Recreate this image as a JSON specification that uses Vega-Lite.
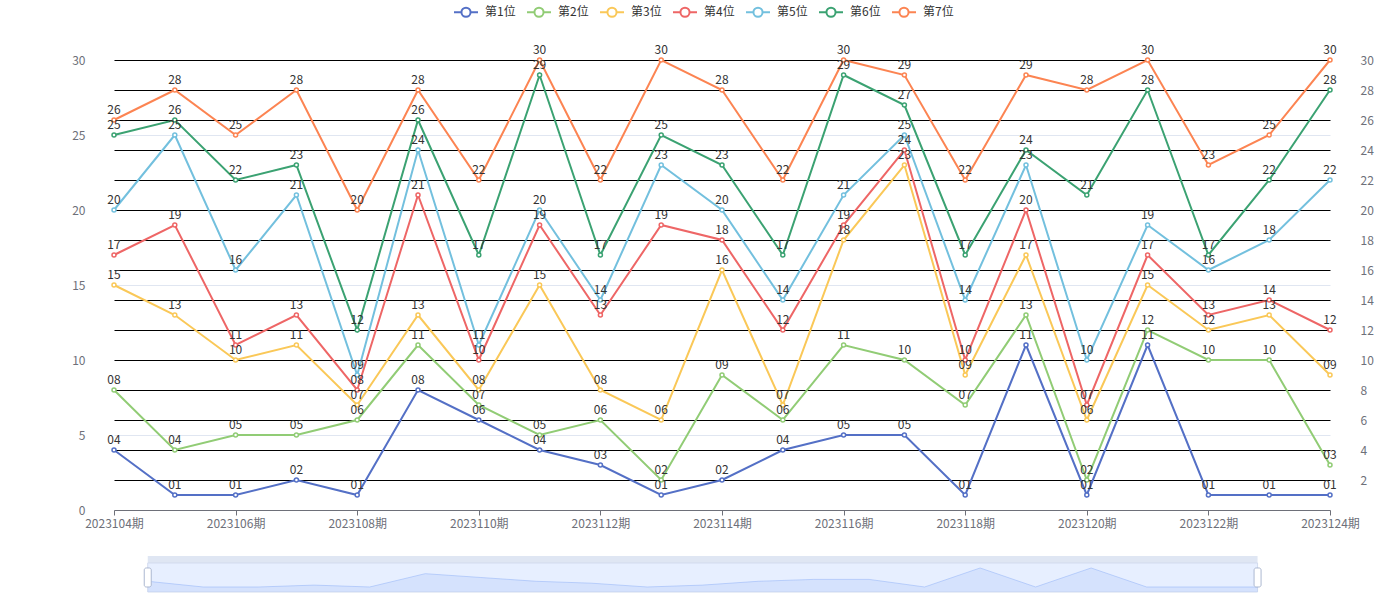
{
  "$schema": "https://vega.github.io/schema/vega-lite/v6.json",
  "autosize": {"type": "none"},
  "padding": {"left": 114, "top": 60, "right": 1286, "bottom": 540},
  "background": "white",
  "config": {
    "view": {"stroke": null},
    "font": "Noto Sans CJK SC",
    "axis": {"labelFont": "Noto Sans CJK SC", "labelFontSize": 12, "labelColor": "#6e7079"},
    "legend": {"labelFont": "Noto Sans CJK SC"}
  },
  "data": {
    "values": [
      {"period": "2023104期", "idx": 0, "series": "第1位", "value": 4},
      {"period": "2023105期", "idx": 1, "series": "第1位", "value": 1},
      {"period": "2023106期", "idx": 2, "series": "第1位", "value": 1},
      {"period": "2023107期", "idx": 3, "series": "第1位", "value": 2},
      {"period": "2023108期", "idx": 4, "series": "第1位", "value": 1},
      {"period": "2023109期", "idx": 5, "series": "第1位", "value": 8},
      {"period": "2023110期", "idx": 6, "series": "第1位", "value": 6},
      {"period": "2023111期", "idx": 7, "series": "第1位", "value": 4},
      {"period": "2023112期", "idx": 8, "series": "第1位", "value": 3},
      {"period": "2023113期", "idx": 9, "series": "第1位", "value": 1},
      {"period": "2023114期", "idx": 10, "series": "第1位", "value": 2},
      {"period": "2023115期", "idx": 11, "series": "第1位", "value": 4},
      {"period": "2023116期", "idx": 12, "series": "第1位", "value": 5},
      {"period": "2023117期", "idx": 13, "series": "第1位", "value": 5},
      {"period": "2023118期", "idx": 14, "series": "第1位", "value": 1},
      {"period": "2023119期", "idx": 15, "series": "第1位", "value": 11},
      {"period": "2023120期", "idx": 16, "series": "第1位", "value": 1},
      {"period": "2023121期", "idx": 17, "series": "第1位", "value": 11},
      {"period": "2023122期", "idx": 18, "series": "第1位", "value": 1},
      {"period": "2023123期", "idx": 19, "series": "第1位", "value": 1},
      {"period": "2023124期", "idx": 20, "series": "第1位", "value": 1},

      {"period": "2023104期", "idx": 0, "series": "第2位", "value": 8},
      {"period": "2023105期", "idx": 1, "series": "第2位", "value": 4},
      {"period": "2023106期", "idx": 2, "series": "第2位", "value": 5},
      {"period": "2023107期", "idx": 3, "series": "第2位", "value": 5},
      {"period": "2023108期", "idx": 4, "series": "第2位", "value": 6},
      {"period": "2023109期", "idx": 5, "series": "第2位", "value": 11},
      {"period": "2023110期", "idx": 6, "series": "第2位", "value": 7},
      {"period": "2023111期", "idx": 7, "series": "第2位", "value": 5},
      {"period": "2023112期", "idx": 8, "series": "第2位", "value": 6},
      {"period": "2023113期", "idx": 9, "series": "第2位", "value": 2},
      {"period": "2023114期", "idx": 10, "series": "第2位", "value": 9},
      {"period": "2023115期", "idx": 11, "series": "第2位", "value": 6},
      {"period": "2023116期", "idx": 12, "series": "第2位", "value": 11},
      {"period": "2023117期", "idx": 13, "series": "第2位", "value": 10},
      {"period": "2023118期", "idx": 14, "series": "第2位", "value": 7},
      {"period": "2023119期", "idx": 15, "series": "第2位", "value": 13},
      {"period": "2023120期", "idx": 16, "series": "第2位", "value": 2},
      {"period": "2023121期", "idx": 17, "series": "第2位", "value": 12},
      {"period": "2023122期", "idx": 18, "series": "第2位", "value": 10},
      {"period": "2023123期", "idx": 19, "series": "第2位", "value": 10},
      {"period": "2023124期", "idx": 20, "series": "第2位", "value": 3},

      {"period": "2023104期", "idx": 0, "series": "第3位", "value": 15},
      {"period": "2023105期", "idx": 1, "series": "第3位", "value": 13},
      {"period": "2023106期", "idx": 2, "series": "第3位", "value": 10},
      {"period": "2023107期", "idx": 3, "series": "第3位", "value": 11},
      {"period": "2023108期", "idx": 4, "series": "第3位", "value": 7},
      {"period": "2023109期", "idx": 5, "series": "第3位", "value": 13},
      {"period": "2023110期", "idx": 6, "series": "第3位", "value": 8},
      {"period": "2023111期", "idx": 7, "series": "第3位", "value": 15},
      {"period": "2023112期", "idx": 8, "series": "第3位", "value": 8},
      {"period": "2023113期", "idx": 9, "series": "第3位", "value": 6},
      {"period": "2023114期", "idx": 10, "series": "第3位", "value": 16},
      {"period": "2023115期", "idx": 11, "series": "第3位", "value": 7},
      {"period": "2023116期", "idx": 12, "series": "第3位", "value": 18},
      {"period": "2023117期", "idx": 13, "series": "第3位", "value": 23},
      {"period": "2023118期", "idx": 14, "series": "第3位", "value": 9},
      {"period": "2023119期", "idx": 15, "series": "第3位", "value": 17},
      {"period": "2023120期", "idx": 16, "series": "第3位", "value": 6},
      {"period": "2023121期", "idx": 17, "series": "第3位", "value": 15},
      {"period": "2023122期", "idx": 18, "series": "第3位", "value": 12},
      {"period": "2023123期", "idx": 19, "series": "第3位", "value": 13},
      {"period": "2023124期", "idx": 20, "series": "第3位", "value": 9},

      {"period": "2023104期", "idx": 0, "series": "第4位", "value": 17},
      {"period": "2023105期", "idx": 1, "series": "第4位", "value": 19},
      {"period": "2023106期", "idx": 2, "series": "第4位", "value": 11},
      {"period": "2023107期", "idx": 3, "series": "第4位", "value": 13},
      {"period": "2023108期", "idx": 4, "series": "第4位", "value": 8},
      {"period": "2023109期", "idx": 5, "series": "第4位", "value": 21},
      {"period": "2023110期", "idx": 6, "series": "第4位", "value": 10},
      {"period": "2023111期", "idx": 7, "series": "第4位", "value": 19},
      {"period": "2023112期", "idx": 8, "series": "第4位", "value": 13},
      {"period": "2023113期", "idx": 9, "series": "第4位", "value": 19},
      {"period": "2023114期", "idx": 10, "series": "第4位", "value": 18},
      {"period": "2023115期", "idx": 11, "series": "第4位", "value": 12},
      {"period": "2023116期", "idx": 12, "series": "第4位", "value": 19},
      {"period": "2023117期", "idx": 13, "series": "第4位", "value": 24},
      {"period": "2023118期", "idx": 14, "series": "第4位", "value": 10},
      {"period": "2023119期", "idx": 15, "series": "第4位", "value": 20},
      {"period": "2023120期", "idx": 16, "series": "第4位", "value": 7},
      {"period": "2023121期", "idx": 17, "series": "第4位", "value": 17},
      {"period": "2023122期", "idx": 18, "series": "第4位", "value": 13},
      {"period": "2023123期", "idx": 19, "series": "第4位", "value": 14},
      {"period": "2023124期", "idx": 20, "series": "第4位", "value": 12},

      {"period": "2023104期", "idx": 0, "series": "第5位", "value": 20},
      {"period": "2023105期", "idx": 1, "series": "第5位", "value": 25},
      {"period": "2023106期", "idx": 2, "series": "第5位", "value": 16},
      {"period": "2023107期", "idx": 3, "series": "第5位", "value": 21},
      {"period": "2023108期", "idx": 4, "series": "第5位", "value": 9},
      {"period": "2023109期", "idx": 5, "series": "第5位", "value": 24},
      {"period": "2023110期", "idx": 6, "series": "第5位", "value": 11},
      {"period": "2023111期", "idx": 7, "series": "第5位", "value": 20},
      {"period": "2023112期", "idx": 8, "series": "第5位", "value": 14},
      {"period": "2023113期", "idx": 9, "series": "第5位", "value": 23},
      {"period": "2023114期", "idx": 10, "series": "第5位", "value": 20},
      {"period": "2023115期", "idx": 11, "series": "第5位", "value": 14},
      {"period": "2023116期", "idx": 12, "series": "第5位", "value": 21},
      {"period": "2023117期", "idx": 13, "series": "第5位", "value": 25},
      {"period": "2023118期", "idx": 14, "series": "第5位", "value": 14},
      {"period": "2023119期", "idx": 15, "series": "第5位", "value": 23},
      {"period": "2023120期", "idx": 16, "series": "第5位", "value": 10},
      {"period": "2023121期", "idx": 17, "series": "第5位", "value": 19},
      {"period": "2023122期", "idx": 18, "series": "第5位", "value": 16},
      {"period": "2023123期", "idx": 19, "series": "第5位", "value": 18},
      {"period": "2023124期", "idx": 20, "series": "第5位", "value": 22},

      {"period": "2023104期", "idx": 0, "series": "第6位", "value": 25},
      {"period": "2023105期", "idx": 1, "series": "第6位", "value": 26},
      {"period": "2023106期", "idx": 2, "series": "第6位", "value": 22},
      {"period": "2023107期", "idx": 3, "series": "第6位", "value": 23},
      {"period": "2023108期", "idx": 4, "series": "第6位", "value": 12},
      {"period": "2023109期", "idx": 5, "series": "第6位", "value": 26},
      {"period": "2023110期", "idx": 6, "series": "第6位", "value": 17},
      {"period": "2023111期", "idx": 7, "series": "第6位", "value": 29},
      {"period": "2023112期", "idx": 8, "series": "第6位", "value": 17},
      {"period": "2023113期", "idx": 9, "series": "第6位", "value": 25},
      {"period": "2023114期", "idx": 10, "series": "第6位", "value": 23},
      {"period": "2023115期", "idx": 11, "series": "第6位", "value": 17},
      {"period": "2023116期", "idx": 12, "series": "第6位", "value": 29},
      {"period": "2023117期", "idx": 13, "series": "第6位", "value": 27},
      {"period": "2023118期", "idx": 14, "series": "第6位", "value": 17},
      {"period": "2023119期", "idx": 15, "series": "第6位", "value": 24},
      {"period": "2023120期", "idx": 16, "series": "第6位", "value": 21},
      {"period": "2023121期", "idx": 17, "series": "第6位", "value": 28},
      {"period": "2023122期", "idx": 18, "series": "第6位", "value": 17},
      {"period": "2023123期", "idx": 19, "series": "第6位", "value": 22},
      {"period": "2023124期", "idx": 20, "series": "第6位", "value": 28},

      {"period": "2023104期", "idx": 0, "series": "第7位", "value": 26},
      {"period": "2023105期", "idx": 1, "series": "第7位", "value": 28},
      {"period": "2023106期", "idx": 2, "series": "第7位", "value": 25},
      {"period": "2023107期", "idx": 3, "series": "第7位", "value": 28},
      {"period": "2023108期", "idx": 4, "series": "第7位", "value": 20},
      {"period": "2023109期", "idx": 5, "series": "第7位", "value": 28},
      {"period": "2023110期", "idx": 6, "series": "第7位", "value": 22},
      {"period": "2023111期", "idx": 7, "series": "第7位", "value": 30},
      {"period": "2023112期", "idx": 8, "series": "第7位", "value": 22},
      {"period": "2023113期", "idx": 9, "series": "第7位", "value": 30},
      {"period": "2023114期", "idx": 10, "series": "第7位", "value": 28},
      {"period": "2023115期", "idx": 11, "series": "第7位", "value": 22},
      {"period": "2023116期", "idx": 12, "series": "第7位", "value": 30},
      {"period": "2023117期", "idx": 13, "series": "第7位", "value": 29},
      {"period": "2023118期", "idx": 14, "series": "第7位", "value": 22},
      {"period": "2023119期", "idx": 15, "series": "第7位", "value": 29},
      {"period": "2023120期", "idx": 16, "series": "第7位", "value": 28},
      {"period": "2023121期", "idx": 17, "series": "第7位", "value": 30},
      {"period": "2023122期", "idx": 18, "series": "第7位", "value": 23},
      {"period": "2023123期", "idx": 19, "series": "第7位", "value": 25},
      {"period": "2023124期", "idx": 20, "series": "第7位", "value": 30}
    ]
  },
  "spacing": 46,
  "bounds": "flush",
  "vconcat": [
    {
      "width": 1216,
      "height": 450,
      "encoding": {
        "x": {
          "field": "period",
          "type": "ordinal",
          "sort": null,
          "scale": {"type": "point", "padding": 0},
          "axis": {
            "title": null,
            "values": ["2023104期", "2023106期", "2023108期", "2023110期", "2023112期", "2023114期", "2023116期", "2023118期", "2023120期", "2023122期", "2023124期"],
            "labelAngle": 0,
            "grid": false,
            "domainColor": "#6e7079",
            "tickColor": "#6e7079",
            "tickSize": 5,
            "labelPadding": 3,
            "labelColor": "#6e7079",
            "labelFontSize": 12
          }
        }
      },
      "layer": [
        {
          "mark": {"type": "line", "strokeWidth": 2},
          "encoding": {
            "y": {
              "field": "value",
              "type": "quantitative",
              "scale": {"domain": [0, 30], "nice": false, "zero": true},
              "axis": {
                "orient": "left",
                "title": null,
                "values": [0, 5, 10, 15, 20, 25, 30],
                "domain": false,
                "ticks": false,
                "labelPadding": 29,
                "grid": true,
                "gridColor": "#e0e6f1",
                "gridWidth": 1
              }
            },
            "color": {
              "field": "series",
              "type": "nominal",
              "scale": {
                "domain": ["第1位", "第2位", "第3位", "第4位", "第5位", "第6位", "第7位"],
                "range": ["#5470c6", "#91cc75", "#fac858", "#ee6666", "#73c0de", "#3ba272", "#fc8452"]
              },
              "legend": {
                "title": null,
                "orient": "none",
                "direction": "horizontal",
                "columns": 7,
                "legendX": 339,
                "legendY": -61,
                "padding": 0,
                "symbolType": "M-1,0L-0.38,0M0.38,0L1,0M-0.38,0A0.38,0.38,0,1,1,0.38,0A0.38,0.38,0,1,1,-0.38,0Z",
                "symbolSize": 576,
                "symbolStrokeWidth": 2,
                "symbolFillColor": "white",
                "labelFontSize": 12,
                "labelColor": "#333333",
                "labelOffset": 6,
                "columnPadding": 7
              }
            }
          }
        },
        {
          "mark": {"type": "point", "shape": "circle", "filled": false, "fill": "white", "fillOpacity": 1, "size": 16, "strokeWidth": 1.5, "opacity": 1},
          "encoding": {
            "y": {
              "field": "value",
              "type": "quantitative",
              "axis": {
                "orient": "right",
                "title": null,
                "values": [2, 4, 6, 8, 10, 12, 14, 16, 18, 20, 22, 24, 26, 28, 30],
                "domain": false,
                "ticks": false,
                "labelPadding": 30,
                "grid": true,
                "gridColor": "#000000",
                "gridWidth": 1
              }
            },
            "color": {
              "field": "series",
              "type": "nominal",
              "scale": {
                "domain": ["第1位", "第2位", "第3位", "第4位", "第5位", "第6位", "第7位"],
                "range": ["#5470c6", "#91cc75", "#fac858", "#ee6666", "#73c0de", "#3ba272", "#fc8452"]
              },
              "legend": {
                "title": null,
                "orient": "none",
                "direction": "horizontal",
                "columns": 7,
                "legendX": 339,
                "legendY": -61,
                "padding": 0,
                "symbolType": "M-1,0L-0.38,0M0.38,0L1,0M-0.38,0A0.38,0.38,0,1,1,0.38,0A0.38,0.38,0,1,1,-0.38,0Z",
                "symbolSize": 576,
                "symbolStrokeWidth": 2,
                "symbolFillColor": "white",
                "labelFontSize": 12,
                "labelColor": "#333333",
                "labelOffset": 6,
                "columnPadding": 7
              }
            }
          }
        },
        {
          "mark": {"type": "text", "dy": -10, "fontSize": 12, "color": "#333333", "font": "Noto Sans CJK SC"},
          "encoding": {
            "y": {"field": "value", "type": "quantitative", "axis": null},
            "text": {"field": "value", "type": "quantitative", "format": "02d"}
          }
        }
      ],
      "resolve": {"axis": {"y": "independent"}}
    },
    {
      "width": 1216,
      "height": 36,
      "layer": [
        {
          "data": {"values": [{}]},
          "mark": {"type": "rect", "fill": "#d2dbee", "opacity": 0.7},
          "encoding": {
            "x": {"datum": 0, "type": "quantitative", "scale": {"domain": [-0.518, 21.215], "nice": false, "zero": false}, "axis": null},
            "x2": {"datum": 20},
            "y": {"datum": 13.63, "type": "quantitative", "scale": {"domain": [-1.63, 17.3], "nice": false, "zero": false}, "axis": null},
            "y2": {"datum": 17.3}
          }
        },
        {
          "data": {"values": [{}]},
          "mark": {"type": "rect", "fill": "#87afff", "fillOpacity": 0.2, "stroke": "#d2dbee", "strokeWidth": 1},
          "encoding": {
            "x": {"datum": 0, "type": "quantitative"},
            "x2": {"datum": 20},
            "y": {"datum": -1.63, "type": "quantitative"},
            "y2": {"datum": 13.63}
          }
        },
        {
          "transform": [{"filter": "datum.series === '第1位'"}],
          "mark": {"type": "area", "color": "#8fb0f7", "fillOpacity": 0.2, "line": {"color": "#8fb0f7", "strokeWidth": 0.5, "opacity": 1}},
          "encoding": {
            "x": {"field": "idx", "type": "quantitative"},
            "y": {"field": "value", "type": "quantitative"},
            "y2": {"datum": -1.63}
          }
        },
        {
          "data": {"values": [{}]},
          "mark": {"type": "bar", "fill": "white", "stroke": "#acb8d1", "strokeWidth": 1, "size": 7, "cornerRadius": 2},
          "encoding": {
            "x": {"datum": 0, "type": "quantitative"},
            "y": {"datum": 1.0, "type": "quantitative"},
            "y2": {"datum": 11.0}
          }
        },
        {
          "data": {"values": [{}]},
          "mark": {"type": "bar", "fill": "white", "stroke": "#acb8d1", "strokeWidth": 1, "size": 7, "cornerRadius": 2},
          "encoding": {
            "x": {"datum": 20, "type": "quantitative"},
            "y": {"datum": 1.0, "type": "quantitative"},
            "y2": {"datum": 11.0}
          }
        }
      ]
    }
  ]
}
